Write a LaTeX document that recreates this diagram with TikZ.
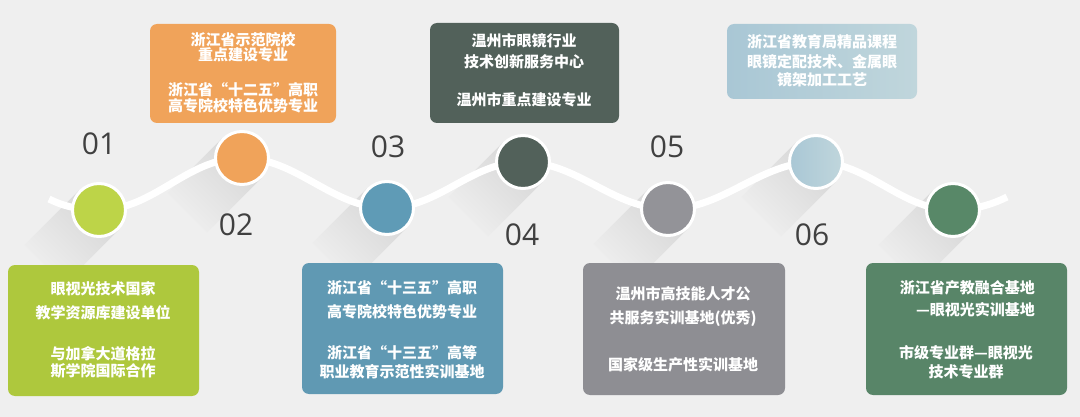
\documentclass[tikz,border=0pt]{standalone}
\usepackage{fontspec}
\newfontfamily\cjk{Noto Sans CJK SC}
\newfontfamily\numfont{Open Sans}
\definecolor{bg}{HTML}{EFEFEF}
\definecolor{shadowc}{HTML}{D6D6D6}
\definecolor{numgray}{HTML}{404040}
\definecolor{cgreen}{HTML}{BDD448}
\definecolor{bgreen}{HTML}{AEC83D}
\definecolor{corange}{HTML}{F0A35A}
\definecolor{cblue}{HTML}{5F9BB6}
\definecolor{bblue}{HTML}{6099B3}
\definecolor{cdark}{HTML}{52615A}
\definecolor{cgray}{HTML}{939398}
\definecolor{bgray}{HTML}{8E8E93}
\definecolor{lbA}{HTML}{A9C7D5}
\definecolor{lbB}{HTML}{C0D6DC}
\definecolor{cdgreen}{HTML}{588868}
\definecolor{bdgreen}{HTML}{588568}
\newcommand\mylongshadow[1]{\shade[top color=shadowc, bottom color=bg, shading angle=-45] (#1) ++(-19.8,-19.8) -- ++(39.6,39.6) -- ++(-55,55) -- ++(-39.6,-39.6) -- cycle;}
\begin{document}
\begin{tikzpicture}[x=1pt,y=-1pt,
  box/.style={rounded corners=7pt, inner sep=0pt},
  txt/.style={text=white, font=\cjk\bfseries\fontsize{15pt}{15pt}\selectfont, anchor=base, yshift=-5.5pt, inner sep=0pt},
  txte/.style={txt, anchor=base east},
  num/.style={text=numgray, font=\numfont\fontsize{30pt}{30pt}\selectfont, inner sep=0pt},
  dot/.style={circle, draw=white, line width=3pt, minimum size=53pt, inner sep=0pt},
  wave/.style={draw=white, line width=7pt}
]
\useasboundingbox (0,0) rectangle (1080,417);
\fill[bg] (0,0) rectangle (1080,417);

\coordinate (p1) at (99,210);
\coordinate (p2) at (242,158);
\coordinate (p3) at (387,208);
\coordinate (p4) at (523,162);
\coordinate (p5) at (668,209);
\coordinate (p6) at (816,162);
\coordinate (p7) at (953,210);
\coordinate (s) at (49,199);
\coordinate (e) at (1007,197);

% long shadows
\foreach \p in {p1,p2,p3,p4,p5,p6,p7}{\mylongshadow{\p}}

% wave line
\draw[wave] (s) .. controls +(16,8) and +(-18,0) .. (p1)
  .. controls +(55,0) and +(-55,0) .. (p2)
  .. controls +(55,0) and +(-55,0) .. (p3)
  .. controls +(52,0) and +(-52,0) .. (p4)
  .. controls +(55,0) and +(-55,0) .. (p5)
  .. controls +(56,0) and +(-56,0) .. (p6)
  .. controls +(52,0) and +(-52,0) .. (p7)
  .. controls +(20,0) and +(-16,8) .. (e);

% circles
\node[dot, fill=cgreen] (c1) at (p1) {};
\node[dot, fill=corange] (c2) at (p2) {};
\node[dot, fill=cblue] (c3) at (p3) {};
\node[dot, fill=cdark] (c4) at (p4) {};
\node[dot, fill=cgray] (c5) at (p5) {};
\node[dot, left color=lbA, right color=lbB] (c6) at (p6) {};
\node[dot, fill=cdgreen] (c7) at (p7) {};

% numbers
\node[num] (n1) at (99,144) {01};
\node[num] (n2) at (236,225) {02};
\node[num] (n3) at (388,147) {03};
\node[num] (n4) at (522,235) {04};
\node[num] (n5) at (667,147) {05};
\node[num] (n6) at (812,235) {06};

% boxes
\node[box, fill=bgreen, minimum width=191pt, minimum height=131pt] (b1) at (103.5,330.5) {};
\node[box, fill=corange, minimum width=186pt, minimum height=99pt] (b2) at (243,73.5) {};
\node[box, fill=cdark, minimum width=189pt, minimum height=100pt] (b3) at (524.5,73) {};
\node[box, left color=lbA, right color=lbB, minimum width=190pt, minimum height=75pt] (b4) at (822,61.5) {};
\node[box, fill=bblue, minimum width=201pt, minimum height=131pt] (b5) at (402.5,328.5) {};
\node[box, fill=bgray, minimum width=202pt, minimum height=132pt] (b6) at (684,329) {};
\node[box, fill=bdgreen, minimum width=201pt, minimum height=132pt] (b7) at (966.5,329) {};

% box texts
\node[txt] (t11) at (103,289) {眼视光技术国家};
\node[txt] (t12) at (103,313) {教学资源库建设单位};
\node[txt] (t13) at (103,354) {与加拿大道格拉};
\node[txt] (t14) at (103,371) {斯学院国际合作};

\node[txt] (t21) at (243,40) {浙江省示范院校};
\node[txt] (t22) at (243,55) {重点建设专业};
\node[txt] (t23) at (243,90) {浙江省“十二五”高职};
\node[txt] (t24) at (243,106) {高专院校特色优势专业};

\node[txt] (t31) at (524,41) {温州市眼镜行业};
\node[txt] (t32) at (524,62) {技术创新服务中心};
\node[txt] (t33) at (524,100) {温州市重点建设专业};

\node[txt] (t41) at (822,42) {浙江省教育局精品课程};
\node[txt] (t42) at (822,62) {眼镜定配技术、金属眼};
\node[txt] (t43) at (822,80) {镜架加工工艺};

\node[txt] (t51) at (402,288) {浙江省“十三五”高职};
\node[txt] (t52) at (402,312) {高专院校特色优势专业};
\node[txt] (t53) at (402,353) {浙江省“十三五”高等};
\node[txt] (t54) at (402,372) {职业教育示范性实训基地};

\node[txt] (t61) at (683,294) {温州市高技能人才公};
\node[txt] (t62) at (683,318) {共服务实训基地(优秀)};
\node[txt] (t63) at (683,365) {国家级生产性实训基地};

\node[txte] (t71) at (1035,288) {浙江省产教融合基地};
\node[txte] (t72) at (1035,310) {—眼视光实训基地};
\node[txt] (t73) at (966,353) {市级专业群—眼视光};
\node[txt] (t74) at (966,372) {技术专业群};
\end{tikzpicture}
\end{document}
